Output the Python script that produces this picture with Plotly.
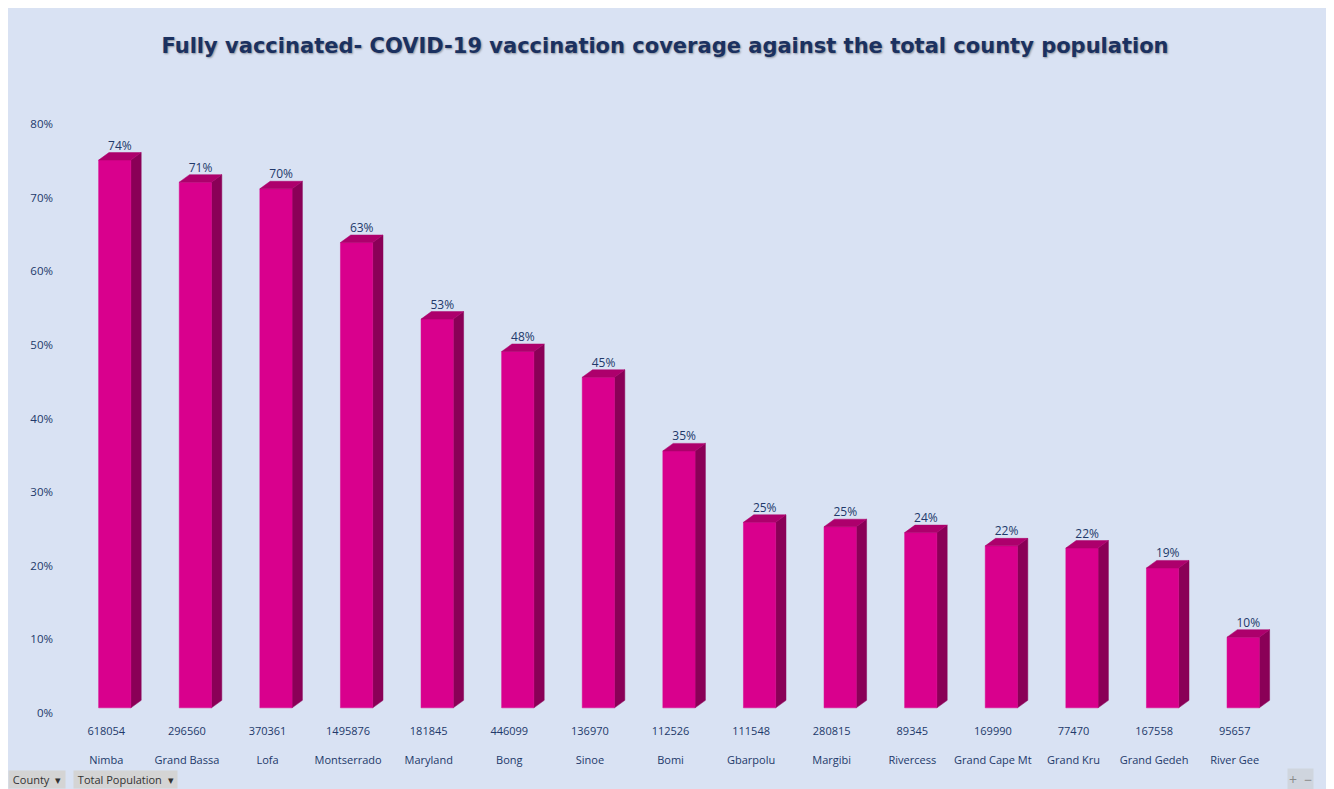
import plotly.graph_objects as go

counties = ["Nimba", "Grand Bassa", "Lofa", "Montserrado", "Maryland", "Bong", "Sinoe",
            "Bomi", "Gbarpolu", "Margibi", "Rivercess", "Grand Cape Mt", "Grand Kru",
            "Grand Gedeh", "River Gee"]
population = [618054, 296560, 370361, 1495876, 181845, 446099, 136970, 112526, 111548,
              280815, 89345, 169990, 77470, 167558, 95657]
coverage = [0.744, 0.714, 0.705, 0.632, 0.528, 0.484, 0.449, 0.349, 0.252, 0.246, 0.238,
            0.220, 0.217, 0.190, 0.096]
y_ticks = [0, 0.1, 0.2, 0.3, 0.4, 0.5, 0.6, 0.7, 0.8]

# style constants for the pseudo-3D look
FRONT = "#D9008D"
SIDE = "#8A0057"
TOP = "#AD006C"
TXT = "#22396A"
W_L, W_R = -0.095, 0.305  # front face offsets from category centre
DX, DY = 0.128, 0.0102    # depth offset (x units, y units)
FLOOR = 0.007

W, H = 1326, 781
L, R, T, B = 57.7, 58.7, 116, 76
PW = W - L - R
PH = H - T - B

xs = list(range(len(counties)))

def poly(builder):
    px, py = [], []
    for i, v in zip(xs, coverage):
        a, b = builder(i, v)
        px += a + [None]
        py += b + [None]
    return px, py

front = poly(lambda i, v: ([i + W_L, i + W_R, i + W_R, i + W_L, i + W_L],
                           [FLOOR, FLOOR, FLOOR + v, FLOOR + v, FLOOR]))
side = poly(lambda i, v: ([i + W_R, i + W_R + DX, i + W_R + DX, i + W_R, i + W_R],
                          [FLOOR, FLOOR + DY, FLOOR + v + DY, FLOOR + v, FLOOR]))
top = poly(lambda i, v: ([i + W_L, i + W_R, i + W_R + DX, i + W_L + DX, i + W_L],
                         [FLOOR + v, FLOOR + v, FLOOR + v + DY, FLOOR + v + DY, FLOOR + v]))

fig = go.Figure()
for (px, py), col in [(side, SIDE), (front, FRONT), (top, TOP)]:
    fig.add_trace(go.Scatter(x=px, y=py, mode="lines", fill="toself", fillcolor=col,
                             line=dict(color=col, width=0.5), hoverinfo="skip",
                             showlegend=False))

fig.add_trace(go.Scatter(
    x=[i + (W_L + W_R + DX) / 2 for i in xs],
    y=[FLOOR + v + DY for v in coverage],
    mode="text", text=[f"{round(v * 100)}%" for v in coverage],
    textposition="top center",
    textfont=dict(family="Open Sans", size=12, color=TXT),
    showlegend=False, hoverinfo="skip"))

by = -(771 - (H - B)) / PH

fig.update_layout(
    width=W, height=H,
    margin=dict(l=L, r=R, t=T, b=B, pad=0),
    paper_bgcolor="#D9E2F3", plot_bgcolor="#D9E2F3",
    title=dict(text="<b>Fully vaccinated- COVID-19 vaccination coverage against the total county population</b>",
               x=(657 - L) / PW, xanchor="center", xref="paper",
               y=1 - 38 / H, yanchor="middle", yref="container",
               font=dict(family="DejaVu Sans", size=21, color="#1B3160",
                         shadow="1px 1px 2px rgba(0,0,0,0.35)")),
    xaxis=dict(range=[-0.5, 14.5], tickmode="array", tickvals=xs,
               ticktext=[f"{p}<br><br>{c}" for p, c in zip(population, counties)],
               showgrid=False, zeroline=False, showline=False, ticks="",
               ticklabelstandoff=10,
               tickfont=dict(family="Open Sans", size=11, color=TXT), fixedrange=True),
    yaxis=dict(range=[0, 0.8], tickmode="array", tickvals=y_ticks,
               ticktext=[f"{round(t * 100)}%" for t in y_ticks],
               showgrid=False, zeroline=False, showline=False, ticks="",
               ticklabelstandoff=12,
               tickfont=dict(family="Open Sans", size=11.5, color=TXT), fixedrange=True),
    annotations=[
        dict(text=" County  ▾ ", xref="paper", yref="paper", x=-L / PW, y=by,
             xanchor="left", yanchor="middle", showarrow=False, bgcolor="#D4D4D4",
             font=dict(family="Open Sans", size=11, color="#333333"), borderpad=1),
        dict(text=" Total Population  ▾ ", xref="paper", yref="paper", x=(65 - L) / PW, y=by,
             xanchor="left", yanchor="middle", showarrow=False, bgcolor="#D4D4D4",
             font=dict(family="Open Sans", size=11, color="#333333"), borderpad=1),
        dict(text="+  −", xref="paper", yref="paper", x=(1279 - L) / PW, y=by,
             xanchor="left", yanchor="middle", showarrow=False, bgcolor="#CFD5DE",
             font=dict(family="Open Sans", size=14, color="#8A8A8A"), borderpad=1),
    ],
)

fig.write_html("out.html")
